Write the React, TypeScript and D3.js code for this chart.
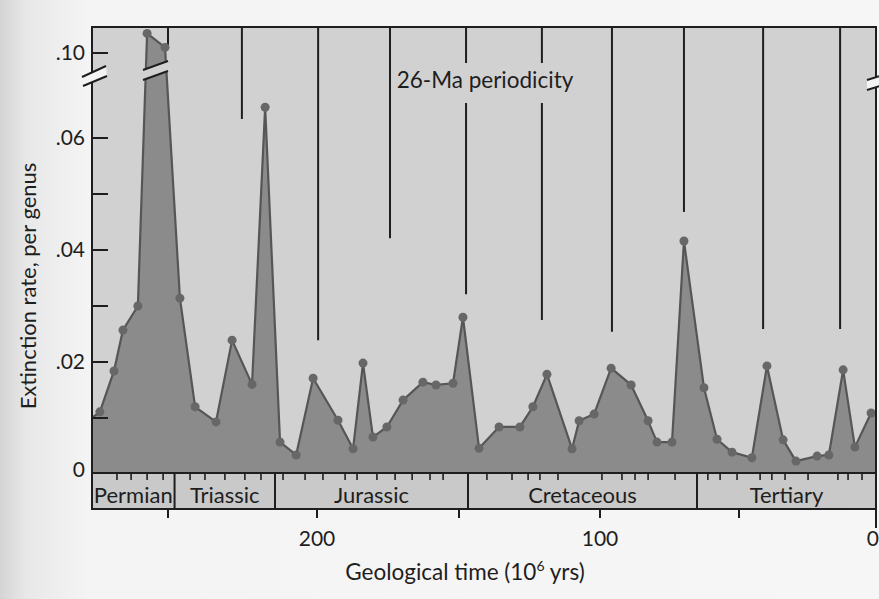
import React from "react";
import * as d3 from "d3";

// ---- data (ages in Ma, extinction rate per genus) ----
const ages = [
  275.1, 269.9, 266.6, 261.1, 257.7, 251.1, 246.0, 240.9, 233.9, 228.5, 221.8, 217.4,
  212.4, 207.0, 201.3, 192.6, 187.3, 183.8, 180.3, 175.4, 169.7, 162.7, 158.1, 152.1,
  148.6, 142.9, 135.8, 128.4, 123.8, 118.8, 109.9, 107.4, 102.1, 96.0, 88.8, 82.7,
  79.5, 74.1, 69.8, 62.6, 57.9, 52.5, 45.3, 39.8, 33.9, 29.2, 21.5, 17.2, 12.0, 7.7, 1.8,
];
const rates = [
  0.0111, 0.0184, 0.0257, 0.03, 0.1035, 0.101, 0.0314, 0.012, 0.0093, 0.0239, 0.016, 0.0655,
  0.0057, 0.0034, 0.0171, 0.0096, 0.0045, 0.0198, 0.0066, 0.0084, 0.0132, 0.0164, 0.0159, 0.0162,
  0.028, 0.0046, 0.0084, 0.0084, 0.012, 0.0178, 0.0045, 0.0095, 0.0107, 0.0189, 0.0159, 0.0095,
  0.0057, 0.0057, 0.0416, 0.0154, 0.0062, 0.0039, 0.0029, 0.0193, 0.0061, 0.0023, 0.0032, 0.0034, 0.0186, 0.0048, 0.0109,
];
const edgeStart = { age: 278, rate: 0.01 };
const edgeEnd = { age: 0, rate: 0.0112 };

const periodNames = ["Permian", "Triassic", "Jurassic", "Cretaceous", "Tertiary"];
const periodBounds = [278, 247.8, 214.1, 146.8, 65.1, 0];
const stageTicks = [
  268.8, 263.6, 257.7, 251.8, 242.6, 237.6, 230.9, 224.2, 218.8, 211.4, 204.0, 197.9, 190.1,
  185.9, 178.9, 172.5, 166.5, 160.2, 155.6, 140.1, 131.2, 125.5, 121.3, 114.9, 99.3, 92.1,
  87.4, 82.7, 73.0, 61.2, 56.8, 50.7, 42.3, 38.0, 33.2, 24.8, 13.9, 10.2, 5.1,
];
const periodicityAges = [250, 225.2, 199.6, 174.3, 147.5, 120.6, 95.7, 69.8, 41.2, 13.1];
const periodicityEnds = [0.1014, 0.0634, 0.0239, 0.0421, 0.0321, 0.0275, 0.0254, 0.0468, 0.0259, 0.0259];

const xTickValues = [250, 200, 150, 100, 50, 0];
const xTickLabels = ["", "200", "", "100", "", "0"];
const yTickValues = [0.01, 0.02, 0.03, 0.04, 0.05, 0.06, 0.1];
const yLabelValues = [0, 0.02, 0.04, 0.06, 0.1];
const yLabelTexts = ["0", ".02", ".04", ".06", ".10"];

const W = 879;
const H = 599;
const FONT = "Lato, 'Open Sans', sans-serif";
const INK = "#1e1e1e";
const PLOT_BG = "#d1d1d1";
const PAGE_BG = "#f4f4f4";

export default function App() {
  const left = 92, right = 876, top = 27, base = 473, bandBottom = 509;

  // scanned figure is slightly non-uniform horizontally: polylinear scale through tick marks
  const x = d3.scaleLinear().domain([278, 250, 200, 150, 100, 50, 0]).range([left, 168, 317, 459, 600, 739, right]);
  // broken y axis: lower part 0..0.07, upper part above the break
  const y = d3.scaleLinear().domain([0, 0.07, 0.095, 0.11]).range([474, 82, 81, -3]);

  const pts = ages.map((a, i) => ({ age: a, rate: rates[i] }));
  const all = [edgeStart, ...pts, edgeEnd];
  const area = d3.area<any>().x(d => x(d.age)).y0(y(0)).y1(d => y(d.rate))(all) as string;
  const line = d3.line<any>().x(d => x(d.age)).y(d => y(d.rate))(all) as string;

  const periods = periodNames.map((n, i) => ({ name: n, a0: periodBounds[i], a1: periodBounds[i + 1] }));

  return (
    <div style={{ position: "absolute", left: 0, top: 0 }}>
      <svg width={W} height={H} style={{ display: "block" }}>
        <defs>
          <linearGradient id="pg" x1="0" x2="1" y1="0" y2="0">
            <stop offset="0" stopColor="#d4d4d4" />
            <stop offset="0.03" stopColor="#e8e8e8" />
            <stop offset="0.1" stopColor={PAGE_BG} />
            <stop offset="1" stopColor="#f6f6f6" />
          </linearGradient>
          <clipPath id="plotclip">
            <rect x={left} y={top} width={right - left} height={base - top} />
          </clipPath>
        </defs>
        <rect x={0} y={0} width={W} height={H} fill="url(#pg)" />

        {/* plot background */}
        <rect x={left} y={top} width={right - left} height={base - top} fill={PLOT_BG} />

        {/* periodicity lines */}
        {periodicityAges.map((a, i) => (
          <line key={"p" + i} x1={x(a)} x2={x(a)} y1={top} y2={y(periodicityEnds[i])} stroke={INK} strokeWidth={2} />
        ))}

        {/* label box interrupting lines */}
        <rect x={393} y={63} width={186} height={40} fill={PLOT_BG} />
        <text x={485} y={88} textAnchor="middle" fontFamily={FONT} fontSize={22.5} fill={INK}>26-Ma periodicity</text>

        {/* data area */}
        <g clipPath="url(#plotclip)">
          <path d={area} fill="#8b8b8b" />
          <path d={line} fill="none" stroke="#565656" strokeWidth={2.2} strokeLinejoin="round" />
          {pts.map((d, i) => (
            <circle key={"c" + i} cx={x(d.age)} cy={y(d.rate)} r={4.5} fill="#676767" />
          ))}
        </g>

        {/* break on the peak */}
        <polygon points="143,70 168,61 168,71 143,80" fill={PLOT_BG} />
        <line x1={143} y1={70} x2={168} y2={61} stroke={INK} strokeWidth={2} />
        <line x1={143} y1={80} x2={168} y2={71} stroke={INK} strokeWidth={2} />

        {/* frame */}
        <line x1={left} x2={right + 1} y1={top} y2={top} stroke={INK} strokeWidth={2} />
        <line x1={left} x2={left} y1={top - 1} y2={bandBottom} stroke={INK} strokeWidth={2} />
        <line x1={right} x2={right} y1={top - 1} y2={528} stroke={INK} strokeWidth={2} />

        {/* y ticks */}
        {yTickValues.map((v, i) => (
          <line key={"yt" + i} x1={left} x2={left + 16} y1={y(v)} y2={y(v)} stroke={INK} strokeWidth={2} />
        ))}
        {yLabelValues.map((v, i) => (
          <text key={"yl" + i} x={85} y={v === 0 ? 470 : y(v)} dy="0.35em" textAnchor="end" fontFamily={FONT} fontSize={21} fill={INK}>
            {yLabelTexts[i]}
          </text>
        ))}

        {/* axis breaks */}
        <polygon points="82,77 106,66 107,76 83,86" fill={PAGE_BG} />
        <line x1={82} y1={77} x2={106} y2={66} stroke={INK} strokeWidth={2} />
        <line x1={83} y1={86} x2={107} y2={76} stroke={INK} strokeWidth={2} />
        <polygon points="867,80 879,76 879,86 867,90" fill={PAGE_BG} />
        <line x1={867} y1={80} x2={880} y2={76} stroke={INK} strokeWidth={2} />
        <line x1={867} y1={90} x2={880} y2={86} stroke={INK} strokeWidth={2} />

        {/* period band */}
        <rect x={left} y={base} width={right - left} height={bandBottom - base} fill="#c9c9c9" stroke={INK} strokeWidth={2} />
        {periodBounds.slice(1, -1).map((a, i) => (
          <line key={"pb" + i} x1={x(a)} x2={x(a)} y1={base} y2={bandBottom} stroke={INK} strokeWidth={2} />
        ))}
        {stageTicks.map((a, i) => (
          <line key={"st" + i} x1={x(a)} x2={x(a)} y1={base} y2={480} stroke={INK} strokeWidth={1.6} />
        ))}
        {periods.map((p, i) => (
          <text key={"pn" + i} x={(x(p.a0) + x(p.a1)) / 2} y={503} textAnchor="middle" fontFamily={FONT} fontSize={22} fill={INK}>
            {p.name}
          </text>
        ))}

        {/* x ticks */}
        {xTickValues.map((a, i) => (
          <g key={"xt" + i}>
            {a !== 0 && <line x1={x(a)} x2={x(a)} y1={bandBottom} y2={518} stroke={INK} strokeWidth={2} />}
            {xTickLabels[i] && (
              <text x={a === 0 ? W : x(a)} y={546} textAnchor={a === 0 ? "end" : "middle"} fontFamily={FONT} fontSize={21} fill={INK}>{xTickLabels[i]}</text>
            )}
          </g>
        ))}

        {/* axis titles */}
        <text x={465} y={580} textAnchor="middle" fontFamily={FONT} fontSize={22.5} fill={INK}>
          Geological time (10<tspan dy={-9} fontSize={14}>6</tspan><tspan dy={9}> yrs)</tspan>
        </text>
        <text transform="translate(36,286) rotate(-90)" textAnchor="middle" fontFamily={FONT} fontSize={22} fill={INK}>
          Extinction rate, per genus
        </text>
      </svg>
    </div>
  );
}
